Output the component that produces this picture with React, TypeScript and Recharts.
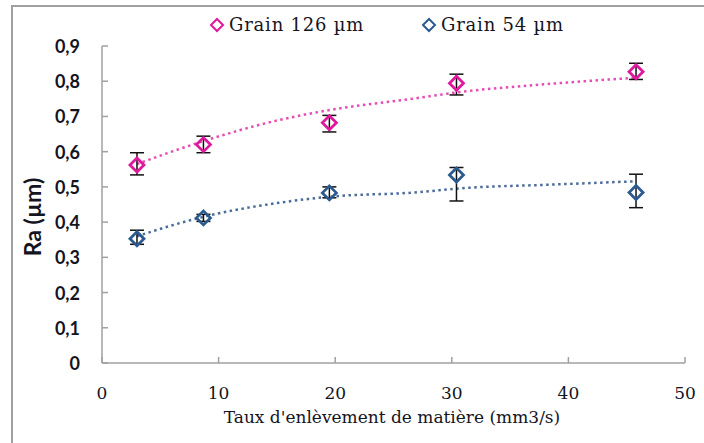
import {
  ComposedChart,
  Line,
  Scatter,
  ErrorBar,
  XAxis,
  YAxis,
  Legend,
} from "recharts";

// measured points
const rateX = [3.0, 8.7, 19.5, 30.4, 45.8];
const ra126 = [0.562, 0.62, 0.682, 0.794, 0.827];
const err126 = [
  [0.028, 0.035],
  [0.023, 0.024],
  [0.026, 0.021],
  [0.033, 0.026],
  [0.022, 0.024],
];
const ra54 = [0.353, 0.412, 0.483, 0.534, 0.484];
const err54 = [
  [0.016, 0.024],
  [0.01, 0.01],
  [0.014, 0.017],
  [0.074, 0.021],
  [0.043, 0.052],
];

// trend curves
const trendX = [3.0, 8.7, 15.2, 19.5, 27.2, 30.4, 39.0, 45.8];
const trend126 = [0.565, 0.63, 0.69, 0.718, 0.753, 0.768, 0.794, 0.81];
const trend54 = [0.36, 0.415, 0.455, 0.472, 0.485, 0.495, 0.507, 0.516];

const xTicks = [0, 10, 20, 30, 40, 50];
const yTicks = [0, 0.1, 0.2, 0.3, 0.4, 0.5, 0.6, 0.7, 0.8, 0.9];

const PINK = "#e0189e";
const PINK_TREND = "#e64db4";
const BLUE = "#2b5a8e";
const BLUE_TREND = "#4a6c9a";
const AXIS = "#a0a0a0";
const TEXT = "#14141e";
const SERIF = "DejaVu Serif";

const pts126 = rateX.map((x, i) => ({ x, y: ra126[i], err: err126[i] }));
const pts54 = rateX.map((x, i) => ({ x, y: ra54[i], err: err54[i] }));
const line126 = trendX.map((x, i) => ({ x, t: trend126[i] }));
const line54 = trendX.map((x, i) => ({ x, t: trend54[i] }));

const Diamond = (color: string) => (props: any) => {
  const { cx, cy } = props;
  const r = 7;
  return (
    <polygon
      points={`${cx},${cy - r} ${cx + r},${cy} ${cx},${cy + r} ${cx - r},${cy}`}
      fill="none"
      stroke={color}
      strokeWidth={2.8}
    />
  );
};

const YTick = (props: any) => {
  const { x, y, payload } = props;
  const ax = x + 22;
  return (
    <g>
      <line x1={ax} x2={ax + 6} y1={y} y2={y} stroke={AXIS} strokeWidth={1.5} />
      <text
        x={x}
        y={y}
        textAnchor="end"
        dominantBaseline="central"
        fill={TEXT}
        fontFamily="Lato"
        fontWeight={700}
        fontSize={18}
      >
        {String(Math.round(payload.value * 10) / 10).replace(".", ",")}
      </text>
    </g>
  );
};

const XTick = (props: any) => {
  const { x, y, payload } = props;
  const ay = y - 20;
  return (
    <g>
      <line x1={x} x2={x} y1={ay} y2={ay - 6} stroke={AXIS} strokeWidth={1.5} />
      <text
        x={x}
        y={y + 10}
        textAnchor="middle"
        dominantBaseline="central"
        fill={TEXT}
        fontFamily={SERIF}
        fontSize={17}
      >
        {payload.value}
      </text>
    </g>
  );
};

const legendItems = [
  { name: "Grain 126 µm", color: PINK, left: 209 },
  { name: "Grain 54 µm", color: BLUE, left: 421 },
];

const LegendBox = () => (
  <div style={{ fontFamily: SERIF, fontSize: 18, letterSpacing: 0.8, color: TEXT }}>
    {legendItems.map((it) => (
      <div
        key={it.name}
        style={{ position: "absolute", left: it.left, top: 14, display: "flex", alignItems: "center" }}
      >
        <svg width={16} height={16} style={{ marginRight: 4 }}>
          <polygon points="8,2 14,8 8,14 2,8" fill="none" stroke={it.color} strokeWidth={2} />
        </svg>
        <span>{it.name}</span>
      </div>
    ))}
  </div>
);

export default function App() {
  return (
    <div
      style={{
        position: "absolute",
        left: 0,
        top: 0,
        width: 704,
        height: 443,
        background: "#fff",
        overflow: "hidden",
      }}
    >
      <div
        style={{
          position: "absolute",
          left: 11,
          top: 5,
          width: 720,
          height: 460,
          borderLeft: `2px solid ${AXIS}`,
          borderTop: `2px solid ${AXIS}`,
        }}
      />
      <ComposedChart
        width={704}
        height={443}
        margin={{ top: 46, right: 19, bottom: 50, left: 42 }}
        style={{ position: "absolute", left: 0, top: 0 }}
      >
        <XAxis
          type="number"
          dataKey="x"
          domain={[0, 50]}
          ticks={xTicks}
          allowDataOverflow
          stroke={AXIS}
          strokeWidth={1.5}
          tickLine={false}
          tickSize={0}
          tickMargin={20}
          tick={<XTick />}
          height={30}
        />
        <YAxis
          type="number"
          domain={[0, 0.9]}
          ticks={yTicks}
          allowDataOverflow
          stroke={AXIS}
          strokeWidth={1.5}
          tickLine={false}
          tickSize={0}
          tickMargin={22}
          tick={<YTick />}
          width={60}
        />
        <Legend verticalAlign="top" content={<LegendBox />} wrapperStyle={{ top: 0, left: 0 }} />
        <Line
          data={line126}
          dataKey="t"
          type="monotone"
          stroke={PINK_TREND}
          strokeWidth={2.5}
          strokeDasharray="2.5 3.5"
          dot={false}
          activeDot={false}
          legendType="none"
          isAnimationActive={false}
        />
        <Line
          data={line54}
          dataKey="t"
          type="monotone"
          stroke={BLUE_TREND}
          strokeWidth={2.5}
          strokeDasharray="2.5 3.5"
          dot={false}
          activeDot={false}
          legendType="none"
          isAnimationActive={false}
        />
        <Scatter
          name="Grain 126 µm"
          data={pts126}
          dataKey="y"
          shape={Diamond(PINK)}
          isAnimationActive={false}
        >
          <ErrorBar dataKey="err" direction="y" width={7} stroke="#111" strokeWidth={1.5} />
        </Scatter>
        <Scatter
          name="Grain 54 µm"
          data={pts54}
          dataKey="y"
          shape={Diamond(BLUE)}
          isAnimationActive={false}
        >
          <ErrorBar dataKey="err" direction="y" width={7} stroke="#111" strokeWidth={1.5} />
        </Scatter>
      </ComposedChart>
      <div
        style={{
          position: "absolute",
          left: 0,
          width: 784,
          top: 407,
          textAlign: "center",
          fontFamily: SERIF,
          fontSize: 17,
          color: TEXT,
        }}
      >
        Taux d'enlèvement de matière (mm3/s)
      </div>
      <div
        style={{
          position: "absolute",
          left: 32,
          top: 217,
          transform: "translate(-50%, -50%) rotate(-90deg)",
          fontFamily: "Lato",
          fontWeight: 700,
          fontSize: 23,
          color: TEXT,
          whiteSpace: "nowrap",
        }}
      >
        Ra (µm)
      </div>
    </div>
  );
}
